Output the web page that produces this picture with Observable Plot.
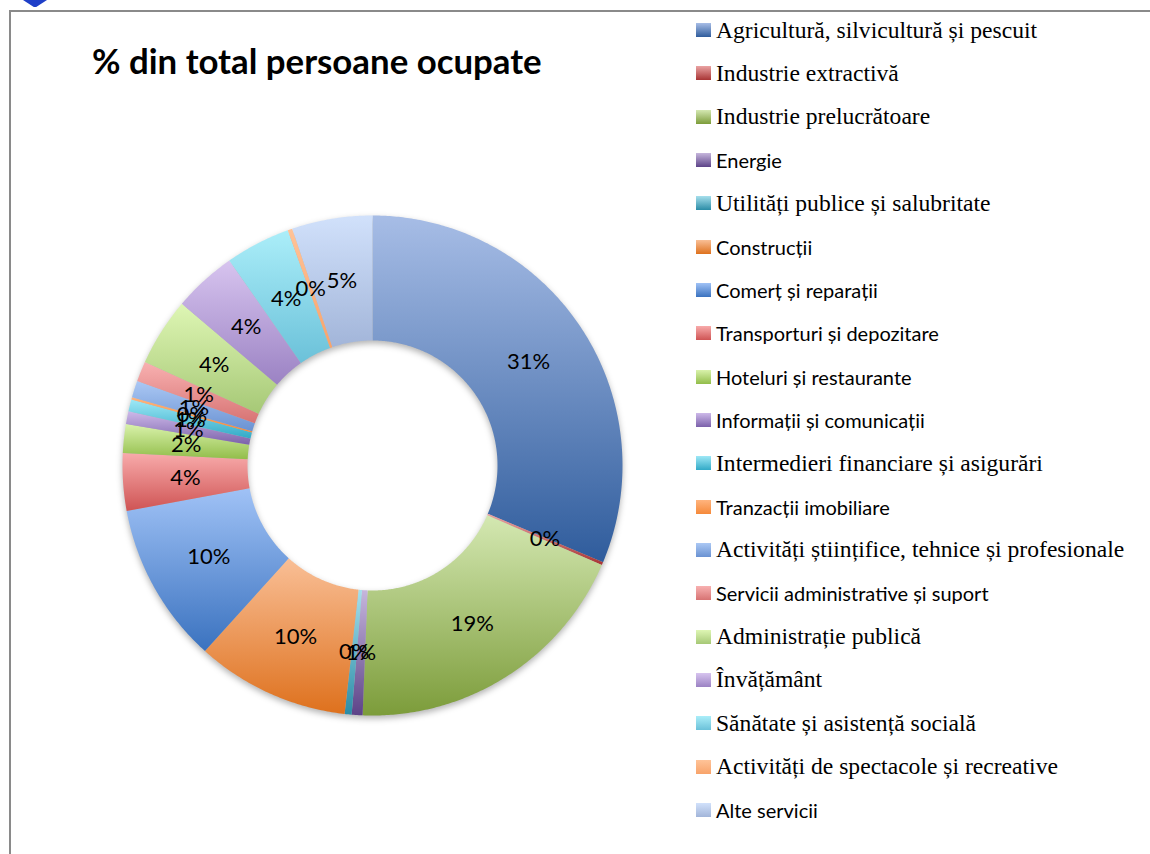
<!DOCTYPE html>
<html><head><meta charset="utf-8">
<script src="https://cdn.jsdelivr.net/npm/d3@7"></script>
<script src="https://cdn.jsdelivr.net/npm/@observablehq/plot@0.6"></script>
<style>
body{margin:0;background:#fff;}
#wrap{position:relative;width:1150px;height:854px;overflow:hidden;background:#fff;}
#wrap svg.chart{position:absolute;left:0;top:0;}
.frameL{position:absolute;left:9px;top:10px;width:2px;height:844px;background:#8a8a8a;}
.frameT{position:absolute;left:9px;top:10px;width:1141px;height:2px;background:#8a8a8a;}
.logo{position:absolute;left:23px;top:0;width:24px;height:7px;background:#1f3fc8;clip-path:polygon(0 0,100% 0,55% 100%,45% 100%);}
.title{position:absolute;left:92px;top:40px;font-family:Lato,"Open Sans",sans-serif;font-weight:bold;font-size:34.8px;line-height:42px;color:#000;white-space:nowrap;}
.leg{position:absolute;left:696px;display:flex;align-items:center;white-space:nowrap;color:#000;}
.sw{width:15px;height:14px;margin-right:5px;flex:none;}
.serif{font-family:"Liberation Serif","Times New Roman",serif;font-size:23.6px;}
.sans{font-family:Lato,"Open Sans",sans-serif;font-size:20px;}
</style></head><body><div id="wrap"><div class="logo"></div><div class="frameL"></div><div class="frameT"></div></div>
<script>
const categories = [
  "Agricultură, silvicultură și pescuit",
  "Industrie extractivă",
  "Industrie prelucrătoare",
  "Energie",
  "Utilități publice și salubritate",
  "Construcții",
  "Comerț și reparații",
  "Transporturi și depozitare",
  "Hoteluri și restaurante",
  "Informații și comunicații",
  "Intermedieri financiare și asigurări",
  "Tranzacții imobiliare",
  "Activități științifice, tehnice și profesionale",
  "Servicii administrative și suport",
  "Administrație publică",
  "Învățământ",
  "Sănătate și asistență socială",
  "Activități de spectacole și recreative",
  "Alte servicii"
];
// share of total employed persons, %
const values = [31.3, 0.2, 19.1, 0.7, 0.45, 9.9, 10.4, 3.7, 1.85, 0.83, 0.78, 0.15, 1.08, 1.3, 4.4, 4.1, 4.2, 0.3, 5.2];
const title = "% din total persoane ocupate";

// styles (kept apart from the data)
const legendFont = ["serif","serif","serif","sans","serif","sans","sans","sans","sans","sans","serif","sans","serif","sans","serif","serif","serif","serif","sans"];
const topColors = ["#a7bde6","#eaa3a3","#d4e8b2","#c6b6dc","#a6dfec","#f9bf96","#a0c2f6","#f8abab","#d9f2ab","#cdb9e9","#9ee8f6","#ffb47e","#abc8f4","#f8b1b1","#def6b4","#d7c4ef","#abeef9","#ffc398","#d1e1fb"];
const bottomColors = ["#2f5c9c","#a83434","#7c9c3a","#5d4388","#2b8ca6","#de711d","#3a72bf","#cf5454","#92bd4a","#7b61aa","#32aac7","#f5893a","#6a92d2","#d77373","#a6c876","#9b82c3","#6bc1d9","#f8a36a","#a2b5d9"];

const total = d3.sum(values);
const arcs = d3.pie().sort(null).value(d => d)(values);
const R0 = 125, R1 = 250, RL = 187.5;

const ring = [];
arcs.forEach((a, i) => {
  const n = Math.max(2, Math.ceil((a.endAngle - a.startAngle) / (Math.PI / 360)));
  for (let k = 0; k <= n; k++) {
    const t = a.startAngle + (a.endAngle - a.startAngle) * k / n;
    ring.push({i, x: R1 * Math.sin(t), y: R1 * Math.cos(t)});
  }
  for (let k = n; k >= 0; k--) {
    const t = a.startAngle + (a.endAngle - a.startAngle) * k / n;
    ring.push({i, x: R0 * Math.sin(t), y: R0 * Math.cos(t)});
  }
});
const labels = arcs.map((a, i) => {
  const m = (a.startAngle + a.endAngle) / 2;
  return {x: RL * Math.sin(m), y: RL * Math.cos(m), t: Math.round(a.value / total * 100) + "%"};
});

const svg = Plot.plot({
  width: 1150, height: 854,
  marginLeft: 122, marginRight: 528, marginTop: 215, marginBottom: 139,
  x: {domain: [-R1, R1], axis: null},
  y: {domain: [-R1, R1], axis: null},
  color: {type: "identity"},
  style: {background: "transparent", overflow: "visible"},
  marks: [
    Plot.line(ring, {x: "x", y: "y", z: "i", fill: d => `url(#grad${d.i})`, stroke: null, curve: "linear-closed"}),
    Plot.text(labels, {x: "x", y: "y", text: "t", fontSize: 22, fontFamily: "Lato, 'Open Sans', sans-serif", fill: "#000"})
  ]
});
svg.classList.add("chart");
const ns = "http://www.w3.org/2000/svg";
const defs = document.createElementNS(ns, "defs");
categories.forEach((c, i) => {
  const g = document.createElementNS(ns, "linearGradient");
  g.setAttribute("id", "grad" + i);
  g.setAttribute("x1", "0"); g.setAttribute("y1", "0"); g.setAttribute("x2", "0"); g.setAttribute("y2", "1");
  [[0, topColors[i]], [1, bottomColors[i]]].forEach(([o, col]) => {
    const s = document.createElementNS(ns, "stop");
    s.setAttribute("offset", o); s.setAttribute("stop-color", col);
    g.appendChild(s);
  });
  defs.appendChild(g);
});
svg.insertBefore(defs, svg.firstChild);
const lineG = svg.querySelector('g[aria-label="line"]');
if (lineG) lineG.style.filter = "drop-shadow(0px 3px 3px rgba(0,0,0,0.3))";

const wrap = document.getElementById("wrap");
wrap.appendChild(svg);

const t = document.createElement("div");
t.className = "title"; t.textContent = title;
wrap.appendChild(t);

categories.forEach((c, i) => {
  const row = document.createElement("div");
  row.className = "leg " + legendFont[i];
  row.style.top = (30 + 43.33 * i - 14) + "px";
  row.style.height = "28px";
  const sw = document.createElement("div");
  sw.className = "sw";
  sw.style.background = `linear-gradient(${topColors[i]}, ${bottomColors[i]})`;
  const tx = document.createElement("span");
  tx.textContent = c;
  row.appendChild(sw); row.appendChild(tx);
  wrap.appendChild(row);
});
</script></body></html>
